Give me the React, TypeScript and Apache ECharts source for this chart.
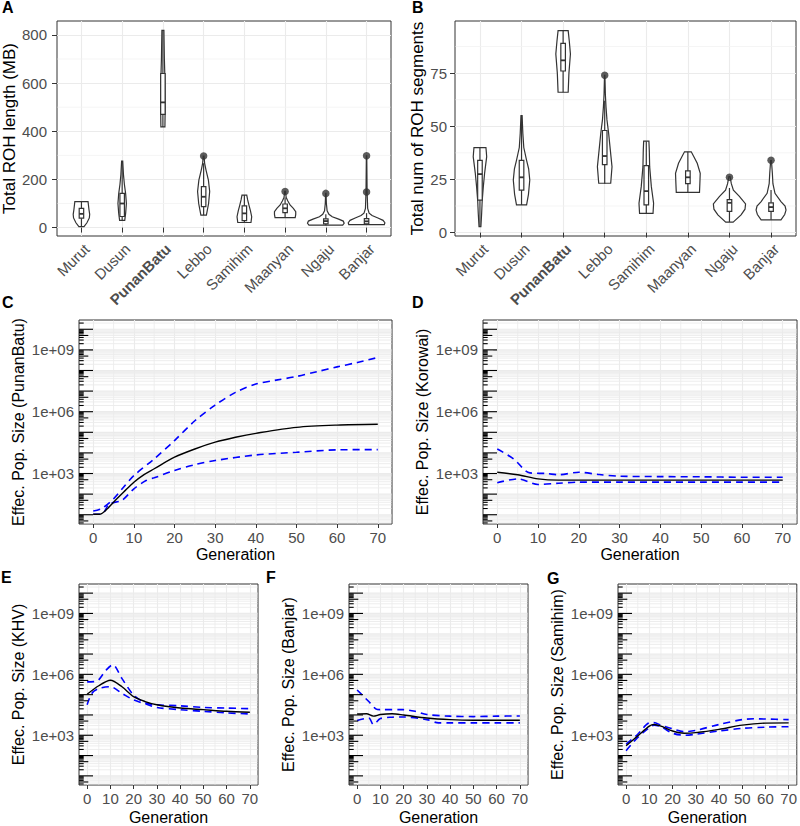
import React, { useEffect, useRef } from "react";
import * as echarts from "echarts";

// ---------------- DATA ----------------
const CATEGORIES = ["Murut", "Dusun", "PunanBatu", "Lebbo", "Samihim", "Maanyan", "Ngaju", "Banjar"];
const CAT_POS = [1, 2, 3, 4, 5, 6, 7, 8];

// Panel A: total ROH length (MB) – violin outline [value, relative half-width]
const ROH_LENGTH_VIOLINS = [
  [[4, 0.14], [20, 0.3], [40, 0.43], [55, 0.45], [75, 0.41], [95, 0.38], [108, 0.36]],
  [[30, 0.14], [60, 0.19], [100, 0.23], [140, 0.19], [180, 0.12], [220, 0.07], [276, 0.03]],
  [[418, 0.11], [500, 0.125], [620, 0.11], [700, 0.08], [819, 0.055]],
  [[52, 0.15], [100, 0.27], [150, 0.33], [197, 0.26], [239, 0.13], [267, 0.055], [297, 0.02]],
  [[21, 0.36], [45, 0.4], [70, 0.33], [90, 0.26], [115, 0.18], [135, 0.13]],
  [[41, 0.55], [55, 0.58], [66, 0.58], [80, 0.45], [94, 0.27], [110, 0.15], [125, 0.06], [150, 0.02]],
  [[10, 0.92], [18, 1.0], [27, 0.95], [35, 0.7], [45, 0.35], [55, 0.17], [70, 0.07], [100, 0.03], [142, 0.01]],
  [[12, 0.97], [20, 1.0], [30, 0.9], [40, 0.62], [50, 0.3], [60, 0.14], [80, 0.06], [150, 0.03], [298, 0.01]],
];
// [whiskerLow, q1, median, q3, whiskerHigh]
const ROH_LENGTH_BOXES = [
  [4, 39, 57, 80, 108],
  [30, 46, 100, 142, 276],
  [418, 470, 520, 640, 819],
  [52, 87, 128, 170, 267],
  [21, 29, 59, 90, 135],
  [41, 62, 80, 98, 125],
  [10, 15, 27, 36, 55],
  [12, 15, 26, 37, 60],
];
const ROH_LENGTH_OUTLIERS = [[4, 297], [6, 150], [7, 142], [8, 148], [8, 298]];
const ROH_LENGTH_TICKS = [0, 200, 400, 600, 800];
const ROH_LENGTH_MINOR = [100, 300, 500, 700];

// Panel B: total number of ROH segments
const ROH_COUNT_VIOLINS = [
  [[2.8, 0.05], [9, 0.09], [15, 0.12], [21.6, 0.18], [28, 0.25], [35.7, 0.36], [40, 0.32]],
  [[13, 0.27], [18, 0.37], [24.7, 0.44], [30, 0.38], [34, 0.27], [40, 0.12], [46.7, 0.07], [55, 0.03]],
  [[66, 0.27], [75, 0.31], [84, 0.39], [90, 0.33], [95, 0.27]],
  [[23.2, 0.32], [31, 0.39], [38.8, 0.3], [46.7, 0.21], [53, 0.12], [59, 0.07], [65, 0.035], [74, 0.01]],
  [[9, 0.36], [13.8, 0.39], [21.6, 0.27], [31, 0.18], [38.8, 0.16], [43, 0.14]],
  [[18.9, 0.62], [23, 0.64], [27.9, 0.66], [32.6, 0.5], [35.7, 0.32], [38, 0.18]],
  [[4.9, 0.2], [8.3, 0.62], [11, 0.83], [13.5, 0.86], [17, 0.53], [20, 0.21], [23, 0.1], [26.3, 0.03]],
  [[6, 0.53], [8.5, 0.73], [10.6, 0.8], [12.5, 0.75], [14.6, 0.53], [18.5, 0.21], [23, 0.1], [27.9, 0.07], [33.8, 0.02]],
];
const ROH_COUNT_BOXES = [
  [3, 15.3, 27.5, 34, 40],
  [13, 20, 26, 34, 55],
  [66, 76, 81, 89, 95],
  [23, 32, 36, 48, 62],
  [9, 13, 19.5, 31.5, 43],
  [19, 23, 26, 29, 38],
  [5, 10, 14, 15.5, 21],
  [6, 10, 12, 14, 20],
];
const ROH_COUNT_OUTLIERS = [[4, 74], [7, 26], [8, 34]];
const ROH_COUNT_TICKS = [0, 25, 50, 75];
const ROH_COUNT_MINOR = [12.5, 37.5, 62.5, 87.5];

// Panels C-G: effective population size by generation [generation, Ne]
const GEN_TICKS = [0, 10, 20, 30, 40, 50, 60, 70];
const GEN_MINOR = [5, 15, 25, 35, 45, 55, 65];
const NE_LABELS = [1e3, 1e6, 1e9];

const PUNANBATU_MEDIAN = [[0, 10.5], [1.5, 10.5], [3, 15.8], [5, 40.7], [7.5, 126], [10, 380], [12.5, 891], [15, 1700], [20, 6170], [25, 15500], [30, 33100], [35, 57500], [40, 89100], [50, 174000], [60, 224000], [70, 245000]];
const PUNANBATU_UPPER = [[0, 15.1], [2, 19.5], [5, 58.9], [7.5, 224], [10, 794], [15, 5130], [20, 39800], [25, 363000], [30, 2.1e6], [35, 8.7e6], [40, 2.19e7], [45, 3.4e7], [50, 5.1e7], [55, 8.7e7], [60, 1.5e8], [65, 2.45e8], [70, 4.27e8]];
const PUNANBATU_LOWER = [[0, 10.5], [2, 10.5], [4, 33.9], [7, 49], [10, 182], [13, 457], [15, 617], [20, 1410], [25, 2690], [30, 4270], [40, 7940], [50, 10700], [60, 14100], [70, 14500]];

const KOROWAI_MEDIAN = [[0, 1150], [5, 871], [10, 550], [15, 479], [20, 479], [30, 479], [40, 479], [50, 479], [60, 479], [70, 479]];
const KOROWAI_UPPER = [[0, 15500], [4, 5130], [8, 1070], [12, 1000], [15, 871], [20, 1150], [25, 891], [30, 741], [40, 708], [50, 692], [60, 661], [70, 661]];
const KOROWAI_LOWER = [[0, 355], [5, 550], [10, 295], [15, 339], [20, 380], [30, 380], [40, 380], [50, 380], [60, 380], [70, 380]];

const KHV_MEDIAN = [[0, 105000], [5, 275000], [10, 513000], [15, 245000], [20, 79400], [25, 45700], [30, 31600], [40, 21900], [50, 18200], [60, 15100], [70, 13500]];
const KHV_UPPER = [[0, 427000], [4, 457000], [8, 1.55e6], [11, 2.95e6], [15, 617000], [20, 95500], [25, 39800], [30, 31600], [40, 28200], [50, 23400], [60, 21900], [70, 20400]];
const KHV_LOWER = [[0, 31600], [2, 115000], [5, 200000], [10, 245000], [15, 115000], [20, 55000], [25, 35500], [30, 23400], [40, 18200], [50, 15100], [60, 12600], [70, 11200]];

const BANJAR_MEDIAN = [[0, 11200], [4, 11500], [7, 8710], [10, 10500], [15, 11500], [20, 10000], [30, 7080], [40, 5890], [50, 5500], [60, 5500], [70, 5500]];
const BANJAR_UPPER = [[0, 170000], [5, 45700], [8, 20000], [10, 18200], [20, 18200], [25, 15100], [30, 10500], [40, 8710], [50, 8320], [60, 8710], [70, 8910]];
const BANJAR_LOWER = [[0, 5370], [5, 7080], [7, 3390], [10, 6610], [15, 7760], [20, 7940], [30, 5890], [35, 4070], [40, 4070], [50, 4070], [60, 4070], [70, 4070]];

const SAMIHIM_MEDIAN = [[0, 302], [5, 933], [10, 2820], [12, 3390], [15, 2820], [20, 1620], [25, 1260], [30, 1350], [40, 1950], [50, 3160], [60, 3980], [70, 4070]];
const SAMIHIM_UPPER = [[0, 363], [5, 1120], [10, 4070], [12, 4170], [15, 3160], [20, 2090], [25, 1510], [30, 1740], [40, 3390], [50, 5890], [55, 6460], [60, 6310], [70, 5890]];
const SAMIHIM_LOWER = [[0, 174], [5, 776], [10, 2340], [12, 3160], [15, 2630], [20, 1260], [25, 1000], [30, 1120], [40, 1620], [50, 2190], [60, 2510], [70, 2630]];

const NE_PANELS = [
  { letter: "C", title: "Effec. Pop. Size (PunanBatu)", median: PUNANBATU_MEDIAN, upper: PUNANBATU_UPPER, lower: PUNANBATU_LOWER },
  { letter: "D", title: "Effec. Pop. Size (Korowai)", median: KOROWAI_MEDIAN, upper: KOROWAI_UPPER, lower: KOROWAI_LOWER },
  { letter: "E", title: "Effec. Pop. Size (KHV)", median: KHV_MEDIAN, upper: KHV_UPPER, lower: KHV_LOWER },
  { letter: "F", title: "Effec. Pop. Size (Banjar)", median: BANJAR_MEDIAN, upper: BANJAR_UPPER, lower: BANJAR_LOWER },
  { letter: "G", title: "Effec. Pop. Size (Samihim)", median: SAMIHIM_MEDIAN, upper: SAMIHIM_UPPER, lower: SAMIHIM_LOWER },
];

// log-scale guide positions (m x 10^k)
const LOG_MANTISSAS = [1, 2, 3, 4, 5, 6, 7, 8, 9];
const LOG_DECADES = [0, 1, 2, 3, 4, 5, 6, 7, 8, 9, 10];
const LOG_GUIDES: number[][] = [];
LOG_DECADES.forEach((k) => LOG_MANTISSAS.forEach((m) => LOG_GUIDES.push([0, m * Math.pow(10, k), m])));

// ---------------- LAYOUT / STYLE ----------------
const FONT = "'Liberation Sans', Arial, Helvetica, sans-serif";
const TICK_COLOR = "#333333";
const LABEL_COLOR = "#4D4D4D";
const GRID_COLOR = "#EBEBEB";

const GRIDS = [
  { left: 57, top: 21, width: 334, height: 215 },
  { left: 455, top: 21, width: 341, height: 215 },
  { left: 79, top: 320, width: 313, height: 204 },
  { left: 483, top: 320, width: 314, height: 204 },
  { left: 79, top: 584, width: 179, height: 203 },
  { left: 349, top: 584, width: 179, height: 203 },
  { left: 618, top: 584, width: 179, height: 203 },
];

const LETTERS = [
  { t: "A", left: 2, top: -1 },
  { t: "B", left: 412, top: -1 },
  { t: "C", left: 2, top: 294 },
  { t: "D", left: 412, top: 294 },
  { t: "E", left: 1, top: 569 },
  { t: "F", left: 266, top: 569 },
  { t: "G", left: 547, top: 570 },
];

function hLineRenderer(color: string, width: number) {
  return (params: any, api: any) => {
    const cs = params.coordSys;
    const y = api.coord([api.value(0), api.value(1)])[1];
    if (y < cs.y || y > cs.y + cs.height) return null;
    return {
      type: "line",
      silent: true,
      shape: { x1: cs.x + 0.5, y1: y, x2: cs.x + cs.width - 0.5, y2: y },
      style: { stroke: color, lineWidth: width },
    };
  };
}

function vLineRenderer(color: string, width: number) {
  return (params: any, api: any) => {
    const cs = params.coordSys;
    const x = api.coord([api.value(0), api.value(1)])[0];
    return {
      type: "line",
      silent: true,
      shape: { x1: x, y1: cs.y + 0.5, x2: x, y2: cs.y + cs.height - 0.5 },
      style: { stroke: color, lineWidth: width },
    };
  };
}

function logGridRenderer(params: any, api: any) {
  const cs = params.coordSys;
  const m = api.value(2);
  const y = api.coord([api.value(0), api.value(1)])[1];
  if (y < cs.y || y > cs.y + cs.height) return null;
  return {
    type: "line",
    silent: true,
    shape: { x1: cs.x + 0.5, y1: y, x2: cs.x + cs.width - 0.5, y2: y },
    style: { stroke: GRID_COLOR, lineWidth: m === 1 ? 1.2 : 0.9 },
  };
}

function logTickRenderer(params: any, api: any) {
  const cs = params.coordSys;
  const m = api.value(2);
  const y = api.coord([api.value(0), api.value(1)])[1];
  if (y < cs.y || y > cs.y + cs.height) return null;
  const len = m === 1 ? 14 : m === 5 ? 9.3 : 4.7;
  return {
    type: "line",
    silent: true,
    shape: { x1: cs.x, y1: y, x2: cs.x + len, y2: y },
    style: { stroke: "#000000", lineWidth: 1.1 },
  };
}

function violinRenderer(profiles: number[][][], boxes: number[][]) {
  return (params: any, api: any) => {
    const i = params.dataIndex;
    const x = api.value(0);
    const halfMax = 0.45;
    const prof = profiles[i];
    const right = prof.map(([v, d]) => api.coord([x + d * halfMax, v]));
    const left = prof.slice().reverse().map(([v, d]) => api.coord([x - d * halfMax, v]));
    const [wlo, q1, med, q3, whi] = boxes[i];
    const bw = 0.055;
    const b1 = api.coord([x - bw, q3]);
    const b2 = api.coord([x + bw, q1]);
    const m1 = api.coord([x - bw, med]);
    const m2 = api.coord([x + bw, med]);
    const w0 = api.coord([x, wlo]);
    const w1 = api.coord([x, q1]);
    const w2 = api.coord([x, q3]);
    const w3 = api.coord([x, whi]);
    const stroke = { stroke: "#333333", lineWidth: 1.2 };
    return {
      type: "group",
      children: [
        { type: "polygon", shape: { points: right.concat(left) }, style: { fill: "#ffffff", ...stroke } },
        { type: "line", shape: { x1: w0[0], y1: w0[1], x2: w1[0], y2: w1[1] }, style: stroke },
        { type: "line", shape: { x1: w2[0], y1: w2[1], x2: w3[0], y2: w3[1] }, style: stroke },
        { type: "rect", shape: { x: b1[0], y: b1[1], width: b2[0] - b1[0], height: b2[1] - b1[1] }, style: { fill: "#ffffff", ...stroke } },
        { type: "line", shape: { x1: m1[0], y1: m1[1], x2: m2[0], y2: m2[1] }, style: { stroke: "#333333", lineWidth: 1.8 } },
      ],
    };
  };
}

function neLabel(v: number) {
  const e = Math.round(Math.log10(v));
  return "1e+" + String(e).padStart(2, "0");
}

function buildOption() {
  const xAxis: any[] = [];
  const yAxis: any[] = [];
  const series: any[] = [];

  const catLabel = (v: number) => {
    const name = CATEGORIES[Math.round(v) - 1] || "";
    return name === "PunanBatu" ? "{b|" + name + "}" : name;
  };
  const tickLabelStyle = { color: LABEL_COLOR, fontSize: 15, fontFamily: FONT };
  const nameStyleAB = { color: "#000000", fontSize: 17, fontFamily: FONT };
  const nameStyleNe = { color: "#000000", fontSize: 16, fontFamily: FONT };

  // Panels A and B
  const violinPanels = [
    { title: "Total ROH length (MB)", min: -35, max: 858, ticks: ROH_LENGTH_TICKS, minor: ROH_LENGTH_MINOR, profiles: ROH_LENGTH_VIOLINS, boxes: ROH_LENGTH_BOXES, outliers: ROH_LENGTH_OUTLIERS, nameGap: 38, labelMargin: 10 },
    { title: "Total num of ROH segments", min: -1.6, max: 99.5, ticks: ROH_COUNT_TICKS, minor: ROH_COUNT_MINOR, profiles: ROH_COUNT_VIOLINS, boxes: ROH_COUNT_BOXES, outliers: ROH_COUNT_OUTLIERS, nameGap: 27, labelMargin: 8 },
  ];
  violinPanels.forEach((p, gi) => {
    xAxis.push({
      type: "value",
      gridIndex: gi,
      min: 0.4,
      max: 8.6,
      axisLine: { show: false },
      axisTick: { show: true, length: 5, customValues: CAT_POS, lineStyle: { color: TICK_COLOR } },
      axisLabel: {
        customValues: CAT_POS,
        rotate: 45,
        margin: 5,
        align: "right",
        verticalAlign: "top",
        formatter: catLabel,
        ...tickLabelStyle,
        rich: { b: { fontWeight: "bold", fontSize: 15, color: LABEL_COLOR, fontFamily: FONT } },
      },
      splitLine: { show: true, lineStyle: { color: GRID_COLOR, width: 1.1 } },
    });
    yAxis.push({
      type: "value",
      gridIndex: gi,
      min: p.min,
      max: p.max,
      axisLine: { show: false },
      axisTick: { show: true, length: 5, customValues: p.ticks, lineStyle: { color: TICK_COLOR } },
      axisLabel: { customValues: p.ticks, margin: p.labelMargin, ...tickLabelStyle },
      splitLine: { show: true, lineStyle: { color: GRID_COLOR, width: 1.1 } },
      name: p.title,
      nameLocation: "middle",
      nameGap: p.nameGap,
      nameTextStyle: nameStyleAB,
    });
    series.push({
      type: "custom",
      xAxisIndex: gi,
      yAxisIndex: gi,
      z: 1,
      silent: true,
      data: p.minor.map((v) => [1, v]),
      renderItem: hLineRenderer("#F2F2F2", 0.8),
    });
    series.push({
      type: "custom",
      xAxisIndex: gi,
      yAxisIndex: gi,
      z: 3,
      silent: true,
      data: CAT_POS.map((c, i) => [c, p.boxes[i][2]]),
      renderItem: violinRenderer(p.profiles, p.boxes),
    });
    series.push({
      type: "scatter",
      xAxisIndex: gi,
      yAxisIndex: gi,
      z: 4,
      silent: true,
      symbol: "circle",
      symbolSize: 7.5,
      itemStyle: { color: "#333333" },
      data: p.outliers,
    });
  });

  // Panels C-G
  NE_PANELS.forEach((p, k) => {
    const gi = k + 2;
    const small = gi >= 4;
    xAxis.push({
      type: "value",
      gridIndex: gi,
      min: -3.5,
      max: 73.5,
      axisLine: { show: false },
      axisTick: { show: true, length: 4, customValues: GEN_TICKS, lineStyle: { color: TICK_COLOR } },
      axisLabel: { customValues: GEN_TICKS, margin: 6, ...tickLabelStyle },
      splitLine: { show: true, lineStyle: { color: GRID_COLOR, width: 1.1 } },
      name: "Generation",
      nameLocation: "middle",
      nameGap: small ? 24 : 22,
      nameTextStyle: nameStyleNe,
    });
    yAxis.push({
      type: "log",
      logBase: 10,
      gridIndex: gi,
      min: 3.548,
      max: 2.818e10,
      axisLine: { show: false },
      axisTick: { show: true, length: 4, customValues: NE_LABELS, lineStyle: { color: TICK_COLOR } },
      axisLabel: { customValues: NE_LABELS, margin: 5, formatter: neLabel, ...tickLabelStyle },
      splitLine: { show: false },
      name: p.title,
      nameLocation: "middle",
      nameGap: 53,
      nameTextStyle: nameStyleNe,
    });
    series.push({
      type: "custom",
      xAxisIndex: gi,
      yAxisIndex: gi,
      z: 1,
      silent: true,
      data: LOG_GUIDES,
      renderItem: logGridRenderer,
    });
    series.push({
      type: "custom",
      xAxisIndex: gi,
      yAxisIndex: gi,
      z: 1,
      silent: true,
      data: GEN_MINOR.map((g) => [g, 1000]),
      renderItem: vLineRenderer(GRID_COLOR, 0.8),
    });
    const lineCommon = { type: "line", xAxisIndex: gi, yAxisIndex: gi, symbol: "none", smooth: 0.3, silent: true };
    series.push({ ...lineCommon, z: 3, data: p.upper, lineStyle: { color: "#0000FF", width: 1.6, type: [7, 5] } });
    series.push({ ...lineCommon, z: 3, data: p.lower, lineStyle: { color: "#0000FF", width: 1.6, type: [7, 5] } });
    series.push({ ...lineCommon, z: 4, data: p.median, lineStyle: { color: "#000000", width: 1.4 } });
    series.push({
      type: "custom",
      xAxisIndex: gi,
      yAxisIndex: gi,
      z: 6,
      silent: true,
      data: LOG_GUIDES,
      renderItem: logTickRenderer,
    });
  });

  return {
    animation: false,
    backgroundColor: "#ffffff",
    textStyle: { fontFamily: FONT },
    grid: GRIDS.map((g) => ({ ...g, show: true, borderColor: "#333333", borderWidth: 1, backgroundColor: "#ffffff", containLabel: false })),
    xAxis,
    yAxis,
    series,
    graphic: LETTERS.map((l) => ({
      type: "text",
      left: l.left,
      top: l.top,
      z: 10,
      style: { text: l.t, fill: "#000000", font: "bold 16px " + FONT },
    })),
  };
}

export default function App() {
  const ref = useRef<HTMLDivElement | null>(null);
  useEffect(() => {
    if (!ref.current) return;
    const chart = echarts.init(ref.current, undefined, { renderer: "svg" });
    chart.setOption(buildOption() as any);
    return () => chart.dispose();
  }, []);
  return <div ref={ref} style={{ position: "fixed", left: 0, top: 0, width: 800, height: 826 }} />;
}
